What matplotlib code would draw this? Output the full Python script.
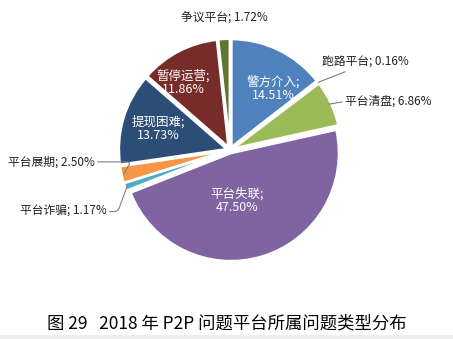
import numpy as np
import matplotlib
matplotlib.use("Agg")
import matplotlib.pyplot as plt
from matplotlib.patches import Rectangle

plt.rcParams["font.family"] = ["Noto Sans CJK SC", "DejaVu Sans"]

# data, clockwise from 12 o'clock
labels = ["警方介入", "跑路平台", "平台清盘", "平台失联", "平台诈骗",
          "平台展期", "提现困难", "暂停运营", "争议平台"]
shares = [14.51, 0.16, 6.86, 47.50, 1.17, 2.50, 13.73, 11.86, 1.72]
colors = ["#4F81BD", "#C0504D", "#9BBB59", "#8064A2", "#4BACC6",
          "#F79646", "#2C4D75", "#772C2A", "#5F7530"]
caption = "图 29   2018 年 P2P 问题平台所属问题类型分布"

fig = plt.figure(figsize=(4.53, 3.39), dpi=100)
ax = fig.add_axes([0, 0, 1, 1])

wedges, _ = ax.pie(shares, colors=colors, startangle=90, counterclock=False,
                   explode=[0.03] * len(shares),
                   wedgeprops=dict(edgecolor="white", linewidth=1.8))
# pixel layout: centre at (230,150), radius 108 px
ax.set_xlim(-230 / 108, (453 - 230) / 108)
ax.set_ylim(-(339 - 150) / 108, 150 / 108)
ax.set_aspect("auto")
ax.axis("off")

def lab(i):
    return f"{labels[i]};\n{shares[i]:.2f}%"

def edge(i, r=1.0):
    w = wedges[i]
    a = np.deg2rad((w.theta1 + w.theta2) / 2)
    cx, cy = w.center
    return cx + r * np.cos(a), cy + r * np.sin(a)

inside = {0: (0.40, 0.57), 7: (-0.435, 0.62), 6: (-0.66, 0.20), 3: (0.065, -0.47)}
for i, (x, y) in inside.items():
    ax.text(x, y, lab(i), ha="center", va="center", color="white",
            fontsize=9, linespacing=1.05)

line_kw = dict(arrowstyle="-", color="#808080", lw=0.8, shrinkA=0, shrinkB=0)
txt_kw = dict(fontsize=8.5, color="#222222", va="center")

ax.text(-0.056, 1.22, f"{labels[8]}; {shares[8]:.2f}%", ha="center", **txt_kw)
ax.annotate(f"{labels[1]}; {shares[1]:.2f}%", xy=edge(1), xytext=(0.85, 0.81),
            ha="left", arrowprops=dict(line_kw, relpos=(0.35, 0)), **txt_kw)
ax.annotate(f"{labels[2]}; {shares[2]:.2f}%", xy=edge(2, 0.98), xytext=(1.065, 0.45),
            ha="left", arrowprops=dict(line_kw, relpos=(0, 0.5)), **txt_kw)
ax.annotate(f"{labels[5]}; {shares[5]:.2f}%", xy=edge(5, 0.98), xytext=(-1.25, -0.11),
            ha="right", arrowprops=dict(line_kw, relpos=(1, 0.5),
                                        connectionstyle="angle,angleA=0,angleB=60,rad=4"),
            **txt_kw)
ax.annotate(f"{labels[4]}; {shares[4]:.2f}%", xy=edge(4, 0.98), xytext=(-1.14, -0.57),
            ha="right", arrowprops=dict(line_kw, relpos=(1, 0.5),
                                        connectionstyle="angle,angleA=0,angleB=70,rad=4"),
            **txt_kw)

fig.text(0.5, 1 - 323 / 339, caption, ha="center", va="center",
         fontsize=12.5, color="black", weight="medium")
fig.patches.append(Rectangle((0, 0), 1, 4 / 339, transform=fig.transFigure,
                             facecolor="#EDEDED", edgecolor="none"))

fig.savefig("out.png", dpi=100)
